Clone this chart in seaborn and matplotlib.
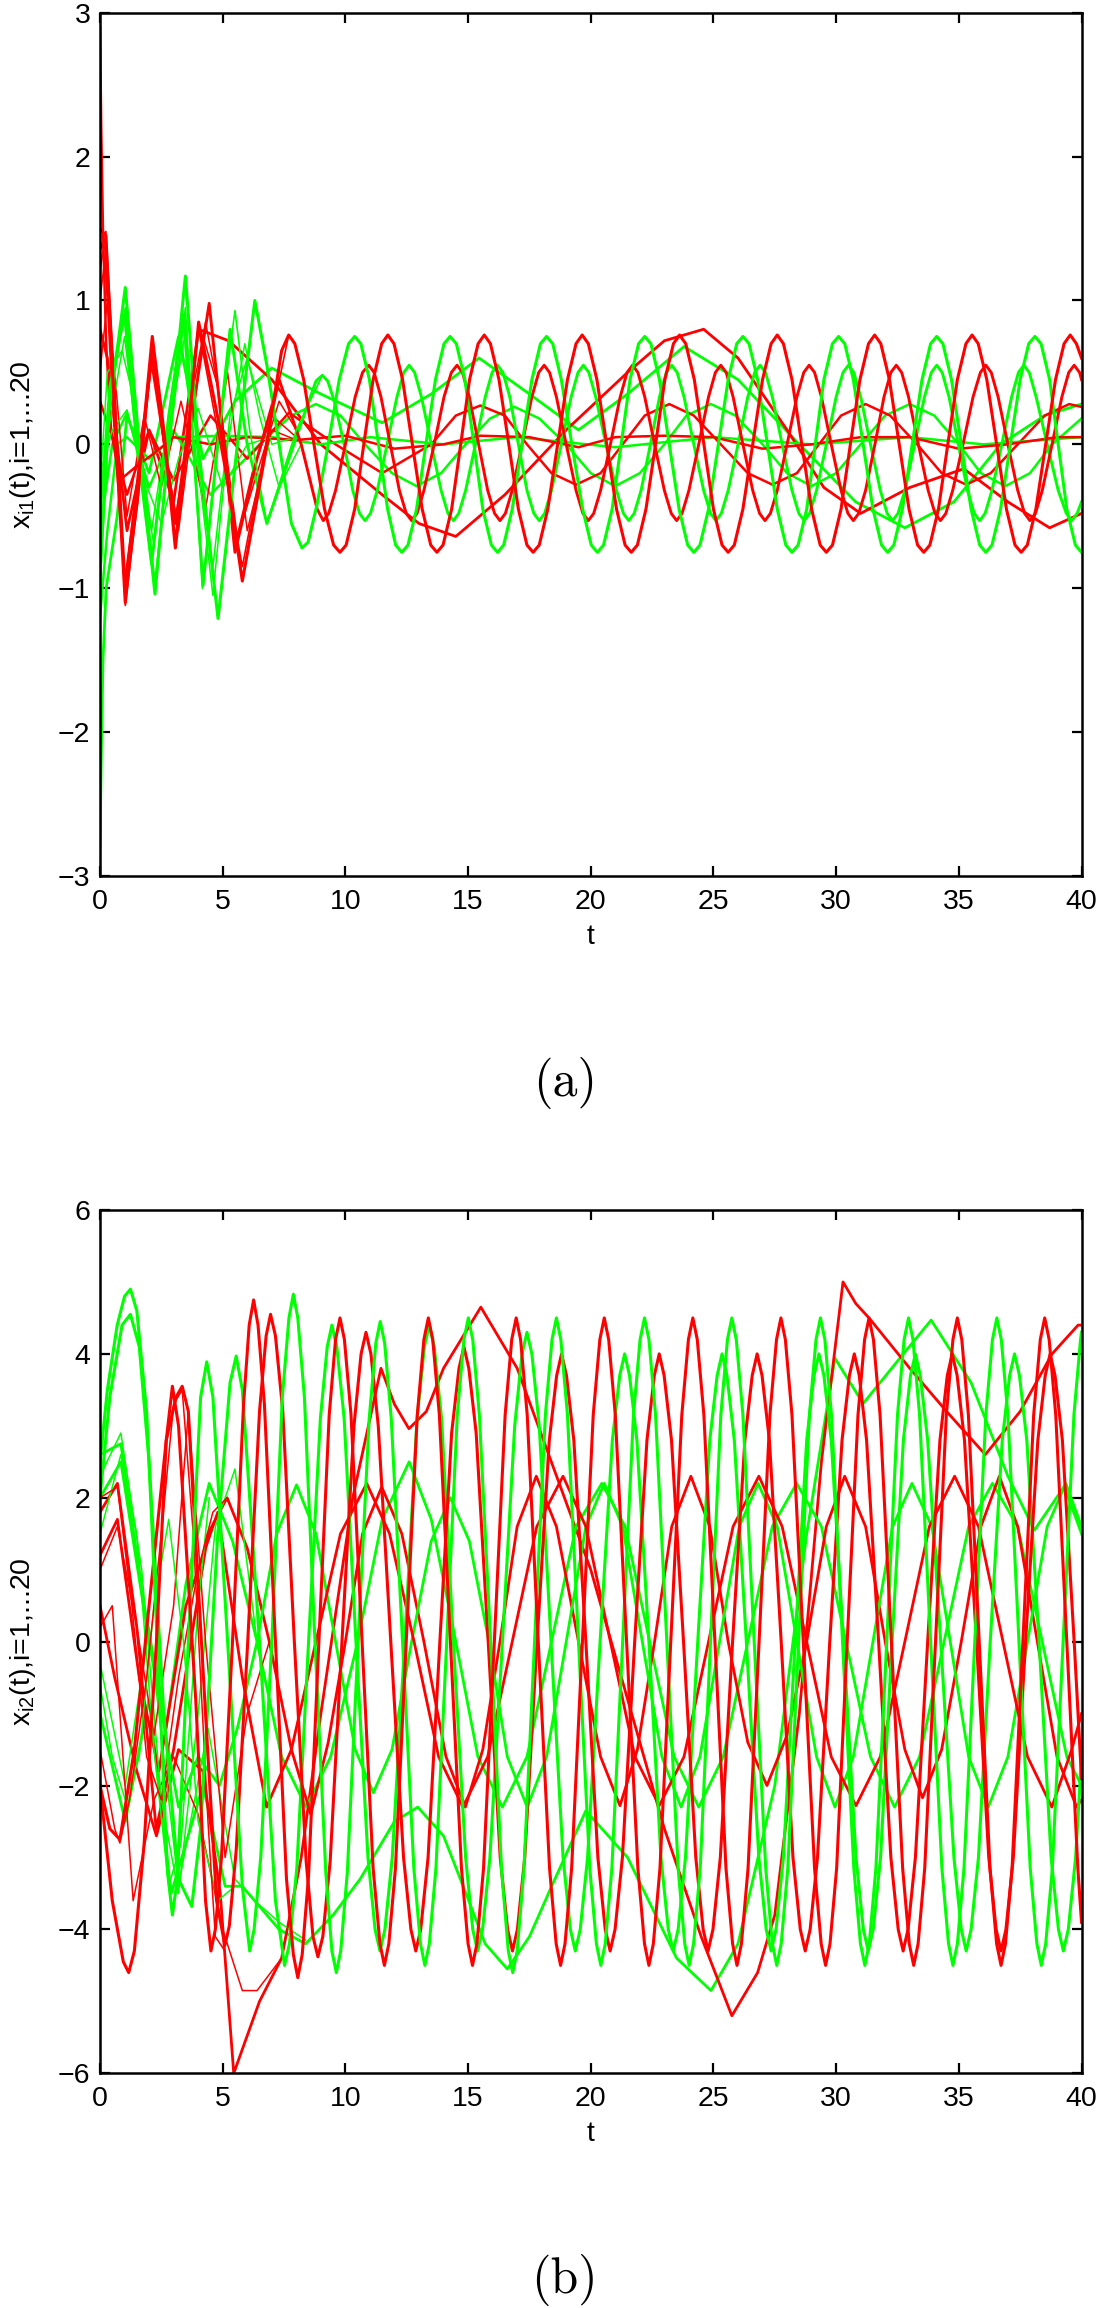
import matplotlib
matplotlib.use("Agg")
import matplotlib.pyplot as plt
import seaborn as sns
import pandas as pd

RED = "#ff0000"
GREEN = "#00ff00"

# ---------------- panel (a): x_i1(t) ----------------
a_red_big = [(0, 1.5), (0.24, 1.45), (0.6, 0.2), (1.03, -1.1), (1.6, -0.2), (2.13, 0.75), (2.6, 0.1), (3.07, -0.72),
             (3.55, 0.0), (4.02, 0.85), (4.9, 0.1), (5.8, -0.95), (6.7, -0.1), (7.4, 0.65), (7.69, 0.76),
             (7.94, 0.70), (8.3, 0.45), (8.72, 0.0), (9.15, -0.45), (9.52, -0.70), (9.78, -0.75),
             (10.03, -0.70), (10.38, -0.45), (10.75, 0.0), (11.13, 0.45), (11.48, 0.70), (11.73, 0.76),
             (11.98, 0.70), (12.33, 0.45), (12.73, 0.0), (13.13, -0.45), (13.48, -0.70), (13.73, -0.75),
             (13.98, -0.70), (14.33, -0.45), (14.7, 0.0), (15.06, 0.45), (15.41, 0.70), (15.66, 0.76),
             (15.91, 0.70), (16.26, 0.45), (16.66, 0.0), (17.05, -0.45), (17.4, -0.70), (17.65, -0.75),
             (17.9, -0.70), (18.25, -0.45), (18.65, 0.0), (19.05, 0.45), (19.4, 0.70), (19.65, 0.76),
             (19.9, 0.70), (20.25, 0.45), (20.65, 0.0), (21.05, -0.45), (21.4, -0.70), (21.65, -0.75),
             (21.9, -0.70), (22.25, -0.45), (22.64, 0.0), (23.02, 0.45), (23.37, 0.70), (23.62, 0.76),
             (23.87, 0.70), (24.22, 0.45), (24.61, 0.0), (25.0, -0.45), (25.35, -0.70), (25.6, -0.75),
             (25.85, -0.70), (26.2, -0.45), (26.6, 0.0), (27.0, 0.45), (27.35, 0.70), (27.6, 0.76),
             (27.85, 0.70), (28.2, 0.45), (28.6, 0.0), (29.0, -0.45), (29.35, -0.70), (29.6, -0.75),
             (29.85, -0.70), (30.2, -0.45), (30.58, 0.0), (30.97, 0.45), (31.32, 0.70), (31.57, 0.76),
             (31.82, 0.70), (32.17, 0.45), (32.57, 0.0), (32.97, -0.45), (33.32, -0.70), (33.57, -0.75),
             (33.82, -0.70), (34.17, -0.45), (34.55, 0.0), (34.94, 0.45), (35.29, 0.70), (35.54, 0.76),
             (35.79, 0.70), (36.14, 0.45), (36.54, 0.0), (36.94, -0.45), (37.29, -0.70), (37.54, -0.75),
             (37.79, -0.70), (38.14, -0.45), (38.54, 0.0), (38.94, 0.45), (39.29, 0.70), (39.54, 0.76),
             (39.79, 0.70), (40.0, 0.6)]
a_red_big_thin = [(0, 1.2), (0.24, 1.48), (0.6, 0.4), (1.03, -1.12), (1.6, -0.3), (2.13, 0.72), (2.6, 0.0), (3.07, -0.65),
                  (3.55, 0.1), (4.02, 0.8), (4.9, 0.0), (5.8, -0.85), (6.7, -0.05), (7.69, 0.76), (7.94, 0.70)]
a_red_mid = [(0, 1.4), (0.24, 1.35), (1.03, -1.0), (2.13, 0.65), (3.07, -0.55), (4.45, 0.98), (5.5, -0.75), (6.4, -0.1),
             (7.3, 0.45), (8.2, 0.0), (8.85, -0.45), (9.1, -0.53),
             (9.32, -0.48), (9.6, -0.32), (10.0, 0.0), (10.4, 0.33), (10.7, 0.5), (10.95, 0.55),
             (11.17, 0.5), (11.45, 0.33), (11.83, 0.0), (12.2, -0.32), (12.48, -0.48), (12.7, -0.53),
             (12.92, -0.48), (13.2, -0.32), (13.62, 0.0), (14.02, 0.33), (14.32, 0.5), (14.55, 0.55),
             (14.77, 0.5), (15.05, 0.33), (15.43, 0.0), (15.8, -0.32), (16.08, -0.48), (16.3, -0.53),
             (16.52, -0.48), (16.8, -0.32), (17.2, 0.0), (17.6, 0.33), (17.88, 0.5), (18.1, 0.55),
             (18.32, 0.5), (18.6, 0.33), (19.0, 0.0), (19.4, -0.32), (19.68, -0.48), (19.9, -0.53),
             (20.12, -0.48), (20.4, -0.32), (20.8, 0.0), (21.2, 0.33), (21.48, 0.5), (21.7, 0.55),
             (21.92, 0.5), (22.2, 0.33), (22.6, 0.0), (23.0, -0.32), (23.28, -0.48), (23.5, -0.53),
             (23.72, -0.48), (24.0, -0.32), (24.4, 0.0), (24.8, 0.33), (25.08, 0.5), (25.3, 0.55),
             (25.52, 0.5), (25.8, 0.33), (26.2, 0.0), (26.6, -0.32), (26.88, -0.48), (27.1, -0.53),
             (27.32, -0.48), (27.6, -0.32), (28.0, 0.0), (28.4, 0.33), (28.68, 0.5), (28.9, 0.55),
             (29.12, 0.5), (29.4, 0.33), (29.8, 0.0), (30.2, -0.32), (30.48, -0.48), (30.7, -0.53),
             (30.92, -0.48), (31.2, -0.32), (31.58, 0.0), (31.95, 0.33), (32.23, 0.5), (32.45, 0.55),
             (32.67, 0.5), (32.95, 0.33), (33.35, 0.0), (33.75, -0.32), (34.03, -0.48), (34.25, -0.53),
             (34.47, -0.48), (34.75, -0.32), (35.17, 0.0), (35.58, 0.33), (35.88, 0.5), (36.1, 0.55),
             (36.32, 0.5), (36.6, 0.33), (37.0, 0.0), (37.4, -0.32), (37.68, -0.48), (37.9, -0.53),
             (38.12, -0.48), (38.4, -0.32), (38.8, 0.0), (39.2, 0.33), (39.48, 0.5), (39.7, 0.55),
             (39.92, 0.5), (40.0, 0.45)]
a_red_slow = [(0, 0.8), (0.3, 0.6), (1.1, -0.6), (2.0, 0.1), (3.0, -0.4), (4.02, 0.8), (5.24, 0.72), (7.0, 0.45),
              (9.0, 0.0), (11.5, -0.35), (13.0, -0.55), (14.5, -0.64), (16.5, -0.35), (19.0, 0.1), (21.5, 0.5),
              (23.0, 0.72), (24.6, 0.8), (26.0, 0.6), (28.0, 0.1), (29.5, -0.3), (31.0, -0.48), (33.0, -0.3),
              (35.2, -0.17), (37.0, -0.4), (38.7, -0.58), (40.0, -0.48)]
a_red_small = [(0, 0.3), (0.5, 0.05), (1.1, -0.35), (2.0, 0.1), (3.0, -0.25), (4.5, 0.2), (6.0, -0.1), (7.7, 0.22),
               (9.6, 0.0), (11.5, -0.2), (13.5, 0.0), (14.5, 0.2), (15.5, 0.27), (16.5, 0.2), (17.4, 0.0), (18.4, -0.2),
               (19.4, -0.28), (20.4, -0.2), (21.3, 0.0), (22.2, 0.2), (23.2, 0.28), (24.2, 0.2), (25.3, 0.0), (26.4, -0.2),
               (27.4, -0.28), (28.4, -0.2), (29.3, 0.0), (30.2, 0.2), (31.2, 0.28), (32.2, 0.2), (33.3, 0.0), (34.3, -0.2),
               (35.3, -0.28), (36.3, -0.2), (37.4, 0.0), (38.5, 0.2), (39.5, 0.28), (40.0, 0.26)]
a_red_flat = [(0, 2.9), (0.05, 2.2), (0.12, 1.5), (0.25, 0.7), (0.45, 0.1), (0.8, -0.25), (1.5, -0.15), (2.3, -0.05),
              (3.0, 0.05), (4.5, 0.0), (6.0, 0.05), (8.0, 0.03), (10.0, 0.06), (12.0, -0.03), (14.0, 0.0), (15.5, 0.06),
              (17.5, 0.05), (19.5, -0.02), (21.0, 0.05), (23.0, 0.06), (25.0, 0.05), (27.0, -0.03), (29.0, 0.0),
              (31.0, 0.05), (33.0, 0.05), (35.0, -0.03), (37.0, 0.0), (39.0, 0.05), (40.0, 0.05)]
a_red_thin = [(0, 0.5), (0.3, 1.0), (0.7, 0.3), (1.1, -0.5), (1.8, 0.2), (2.5, -0.3), (3.3, 0.3), (4.3, -0.45),
              (5.2, 0.5), (6.0, -0.6), (7.0, 0.1), (8.0, 0.03)]
a_red_thin2 = [(0, 1.0), (0.2, 1.3), (0.6, 0.0), (1.0, -0.95), (1.5, -0.3), (2.1, 0.55), (2.6, 0.0), (3.1, -0.5),
               (3.7, 0.3), (4.3, 0.85), (4.9, 0.3), (5.5, -0.7), (6.2, -0.2), (7.0, 0.2), (8.0, 0.05)]
a_red_thin3 = [(0, 1.35), (0.22, 1.42), (0.65, 0.1), (1.03, -1.05), (1.55, -0.4), (2.1, 0.6), (2.7, -0.1), (3.2, -0.6),
               (3.8, 0.2), (4.2, 0.75), (4.8, 0.4), (5.6, -0.65), (6.4, -0.2), (7.3, 0.3), (8.0, 0.1)]

a_grn_big = [(0, -0.9), (0.35, 0.2), (1.03, 1.09), (1.6, 0.0), (2.24, -1.04), (2.8, 0.0), (3.48, 1.17), (4.0, 0.0),
             (4.81, -1.21), (5.6, 0.0), (6.31, 1.0), (6.8, 0.55), (7.3, 0.0), (7.8, -0.55), (8.23, -0.72),
             (8.48, -0.68), (8.83, -0.43), (9.3, 0.0), (9.75, 0.45), (10.13, 0.70), (10.38, 0.75),
             (10.63, 0.70), (10.98, 0.45), (11.35, 0.0), (11.72, -0.45), (12.05, -0.70), (12.3, -0.75),
             (12.55, -0.70), (12.9, -0.45), (13.28, 0.0), (13.67, 0.45), (14.02, 0.70), (14.27, 0.75),
             (14.52, 0.70), (14.87, 0.45), (15.24, 0.0), (15.6, -0.45), (15.95, -0.70), (16.2, -0.75),
             (16.45, -0.70), (16.8, -0.45), (17.2, 0.0), (17.6, 0.45), (17.95, 0.70), (18.2, 0.75),
             (18.45, 0.70), (18.8, 0.45), (19.23, 0.0), (19.67, -0.45), (20.02, -0.70), (20.27, -0.75),
             (20.52, -0.70), (20.87, -0.45), (21.24, 0.0), (21.6, 0.45), (21.95, 0.70), (22.2, 0.75),
             (22.45, 0.70), (22.8, 0.45), (23.2, 0.0), (23.6, -0.45), (23.95, -0.70), (24.2, -0.75),
             (24.45, -0.70), (24.8, -0.45), (25.2, 0.0), (25.6, 0.45), (25.95, 0.70), (26.2, 0.75),
             (26.45, 0.70), (26.8, 0.45), (27.2, 0.0), (27.6, -0.45), (27.95, -0.70), (28.2, -0.75),
             (28.45, -0.70), (28.8, -0.45), (29.15, 0.0), (29.5, 0.45), (29.85, 0.70), (30.1, 0.75),
             (30.35, 0.70), (30.7, 0.45), (31.1, 0.0), (31.5, -0.45), (31.85, -0.70), (32.1, -0.75),
             (32.35, -0.70), (32.7, -0.45), (33.1, 0.0), (33.5, 0.45), (33.85, 0.70), (34.1, 0.75),
             (34.35, 0.70), (34.7, 0.45), (35.1, 0.0), (35.5, -0.45), (35.85, -0.70), (36.1, -0.75),
             (36.35, -0.70), (36.7, -0.45), (37.1, 0.0), (37.5, 0.45), (37.85, 0.70), (38.1, 0.75),
             (38.35, 0.70), (38.7, 0.45), (39.05, 0.0), (39.4, -0.45), (39.75, -0.70), (40.0, -0.75)]
a_grn_big_thin = [(0, -1.0), (0.4, 0.3), (1.03, 0.95), (1.6, 0.0), (2.24, -0.95), (2.9, 0.1), (3.48, 0.95), (3.8, 0.0),
                  (4.17, -1.0), (4.8, 0.0), (5.5, 0.93), (6.1, 0.1), (6.8, -0.55), (8.0, 0.1), (9.06, 0.48)]
a_grn_mid = [(0, -0.5), (0.4, 0.4), (1.0, 0.9), (1.5, 0.0), (2.1, -0.83), (2.8, 0.2), (3.4, 0.9), (3.8, 0.0),
             (4.2, -0.98), (4.8, 0.0), (5.3, 0.8), (6.0, 0.0), (6.8, -0.55), (7.9, 0.0), (8.8, 0.44), (9.06, 0.48),
             (9.28, 0.44), (9.55, 0.3), (9.95, 0.0), (10.3, -0.32), (10.58, -0.48), (10.8, -0.53),
             (11.02, -0.48), (11.3, -0.32), (11.7, 0.0), (12.1, 0.33), (12.38, 0.5), (12.6, 0.55),
             (12.82, 0.5), (13.1, 0.33), (13.5, 0.0), (13.9, -0.32), (14.18, -0.48), (14.4, -0.53),
             (14.62, -0.48), (14.9, -0.32), (15.3, 0.0), (15.7, 0.33), (15.98, 0.5), (16.2, 0.55),
             (16.42, 0.5), (16.7, 0.33), (17.05, 0.0), (17.4, -0.32), (17.68, -0.48), (17.9, -0.53),
             (18.12, -0.48), (18.4, -0.32), (18.8, 0.0), (19.2, 0.33), (19.48, 0.5), (19.7, 0.55),
             (19.92, 0.5), (20.2, 0.33), (20.62, 0.0), (21.05, -0.32), (21.33, -0.48), (21.55, -0.53),
             (21.77, -0.48), (22.05, -0.32), (22.43, 0.0), (22.8, 0.33), (23.08, 0.5), (23.3, 0.55),
             (23.52, 0.5), (23.8, 0.33), (24.2, 0.0), (24.6, -0.32), (24.88, -0.48), (25.1, -0.53),
             (25.32, -0.48), (25.6, -0.32), (26.0, 0.0), (26.4, 0.33), (26.68, 0.5), (26.9, 0.55),
             (27.12, 0.5), (27.4, 0.33), (27.8, 0.0), (28.2, -0.32), (28.48, -0.48), (28.7, -0.53),
             (28.92, -0.48), (29.2, -0.32), (29.6, 0.0), (30.0, 0.33), (30.28, 0.5), (30.5, 0.55),
             (30.72, 0.5), (31.0, 0.33), (31.4, 0.0), (31.8, -0.32), (32.08, -0.48), (32.3, -0.53),
             (32.52, -0.48), (32.8, -0.32), (33.2, 0.0), (33.6, 0.33), (33.88, 0.5), (34.1, 0.55),
             (34.32, 0.5), (34.6, 0.33), (34.98, 0.0), (35.35, -0.32), (35.63, -0.48), (35.85, -0.53),
             (36.07, -0.48), (36.35, -0.32), (36.75, 0.0), (37.15, 0.33), (37.43, 0.5), (37.65, 0.55),
             (37.87, 0.5), (38.15, 0.33), (38.6, 0.0), (39.05, -0.32), (39.38, -0.48), (39.6, -0.53),
             (39.82, -0.48), (40.0, -0.4)]
a_grn_small = [(0, -0.6), (0.5, 0.0), (1.1, 0.22), (2.0, -0.3), (3.0, 0.1), (4.5, -0.35), (6.5, 0.0), (7.8, 0.2),
               (8.8, 0.28), (9.8, 0.2), (10.8, 0.0), (11.9, -0.2), (12.9, -0.29), (13.9, -0.2), (14.9, 0.0), (15.9, 0.18),
               (16.9, 0.26), (17.9, 0.18), (19.0, 0.0), (20.0, -0.2), (21.0, -0.29), (22.0, -0.2), (23.0, 0.0), (23.9, 0.2),
               (24.9, 0.28), (25.9, 0.2), (27.0, 0.0), (28.0, -0.2), (29.0, -0.29), (30.0, -0.2), (31.0, 0.0), (32.0, 0.2),
               (33.0, 0.28), (34.0, 0.2), (35.0, 0.0), (35.9, -0.2), (36.9, -0.29), (37.9, -0.2), (38.8, 0.0), (40.0, 0.18)]
a_grn_slow = [(0, -2.8), (0.05, -2.2), (0.12, -1.5), (0.25, -1.0), (0.7, -0.5), (1.1, 0.2), (2.0, -0.2), (3.2, 0.75),
              (4.2, -0.1), (5.5, 0.3), (7.0, 0.53), (9.0, 0.35), (11.5, 0.15), (13.5, 0.35), (15.45, 0.6), (17.5, 0.35),
              (19.5, 0.1), (21.5, 0.35), (23.8, 0.68), (26.0, 0.45), (28.5, 0.0), (30.8, -0.4), (32.8, -0.58),
              (34.8, -0.4), (36.7, 0.0), (38.5, 0.2), (40.0, 0.28)]
a_grn_flat = [(0, -1.2), (0.3, -0.6), (0.7, 0.0), (1.1, 0.05), (2.0, -0.1), (3.0, 0.05), (5.0, 0.06), (7.0, 0.05),
              (9.0, 0.0), (11.0, 0.05), (14.0, 0.0), (17.0, 0.05), (21.0, -0.02), (25.0, 0.05), (29.0, 0.0),
              (33.0, 0.05), (36.0, 0.0), (40.0, 0.05)]
a_grn_thin = [(0, -0.3), (0.3, 0.5), (0.9, 0.65), (1.4, 0.3), (2.1, -0.6), (2.9, 0.3), (3.3, 0.75), (4.0, -0.2),
              (4.6, -0.85), (5.3, 0.2), (6.0, 0.6), (7.0, 0.0), (8.0, 0.05)]
a_grn_thin2 = [(0, -0.8), (0.35, 0.1), (1.0, 0.75), (1.6, -0.1), (2.2, -0.7), (2.8, 0.1), (3.5, 0.8), (4.1, -0.3),
               (4.6, -1.05), (5.2, 0.0), (5.9, 0.7), (6.5, 0.2), (7.3, -0.3), (8.2, 0.0)]
a_grn_thin3 = [(0, -0.2), (0.5, 0.1), (1.1, 0.24), (1.7, -0.2), (2.5, -0.55), (3.2, -0.1), (4.0, 0.25), (5.0, -0.3),
               (6.0, 0.0), (7.0, 0.05)]

# ---------------- panel (b): x_i2(t) ----------------
b_red_a = [(0, -2.0), (0.5, -3.6), (0.95, -4.45), (1.17, -4.6), (1.4, -4.3), (1.8, -2.8), (2.3, 0.0), (2.7, 2.8),
           (2.95, 3.55), (3.2, 3.0), (3.9, -0.8), (4.3, -3.6), (4.52, -4.3),
           (4.7, -4.0), (4.95, -3.0), (5.4, 0.0), (5.85, 3.3), (6.08, 4.4), (6.26, 4.75),
           (6.44, 4.4), (6.7, 3.3), (7.15, 0.0), (7.6, -3.3), (7.88, -4.35), (8.06, -4.67),
           (8.24, -4.35), (8.5, -3.25), (8.92, 0.0), (9.34, 3.15), (9.6, 4.2), (9.78, 4.5),
           (9.96, 4.2), (10.23, 3.15), (10.68, 0.0), (11.13, -3.15), (11.41, -4.2), (11.59, -4.5),
           (11.77, -4.2), (12.04, -3.15), (12.48, 0.0), (12.93, 3.15), (13.2, 4.2), (13.38, 4.5),
           (13.56, 4.2), (13.83, 3.15), (14.28, 0.0), (14.73, -3.15), (15.0, -4.2), (15.18, -4.5),
           (15.36, -4.2), (15.63, -3.15), (16.07, 0.0), (16.51, 3.15), (16.78, 4.2), (16.96, 4.5),
           (17.14, 4.2), (17.41, 3.15), (17.86, 0.0), (18.32, -3.15), (18.59, -4.2), (18.77, -4.5),
           (18.95, -4.2), (19.22, -3.15), (19.66, 0.0), (20.1, 3.15), (20.37, 4.2), (20.55, 4.5),
           (20.73, 4.2), (21.0, 3.15), (21.46, 0.0), (21.92, -3.15), (22.19, -4.2), (22.37, -4.5),
           (22.55, -4.2), (22.82, -3.15), (23.26, 0.0), (23.71, 3.15), (23.98, 4.2), (24.16, 4.5),
           (24.34, 4.2), (24.61, 3.15), (25.06, 0.0), (25.51, -3.15), (25.78, -4.2), (25.96, -4.5),
           (26.14, -4.2), (26.41, -3.15), (26.86, 0.0), (27.3, 3.15), (27.57, 4.2), (27.75, 4.5),
           (27.93, 4.2), (28.2, 3.15), (28.66, 0.0), (29.12, -3.15), (29.39, -4.2), (29.57, -4.5),
           (29.75, -4.2), (30.02, -3.15), (30.45, 0.0), (30.89, 3.15), (31.16, 4.2), (31.34, 4.5),
           (31.52, 4.2), (31.79, 3.15), (32.25, 0.0), (32.71, -3.15), (32.98, -4.2), (33.16, -4.5),
           (33.34, -4.2), (33.61, -3.15), (34.05, 0.0), (34.49, 3.15), (34.76, 4.2), (34.94, 4.5),
           (35.12, 4.2), (35.39, 3.15), (35.83, 0.0), (36.27, -3.15), (36.54, -4.2), (36.72, -4.5),
           (36.9, -4.2), (37.17, -3.15), (37.61, 0.0), (38.05, 3.15), (38.32, 4.2), (38.5, 4.5),
           (38.68, 4.2), (38.95, 3.15), (39.4, 0.0), (39.85, -3.15), (40.0, -3.9)]
b_red_b = [(0, -2.0), (0.4, -2.6), (0.81, -2.75), (1.4, -1.5), (2.0, 0.5), (2.7, 2.8), (3.1, 3.4), (3.35, 3.55),
           (3.6, 3.2), (4.3, -1.0), (4.75, -3.6), (5.09, -4.22),
           (5.27, -3.95), (5.55, -2.9), (6.02, 0.0), (6.5, 3.2), (6.77, 4.25), (6.95, 4.55),
           (7.15, 4.25), (7.45, 3.2), (7.92, 0.0), (8.4, -3.05), (8.68, -4.1), (8.88, -4.38),
           (9.08, -4.1), (9.38, -3.05), (9.86, 0.0), (10.35, 3.0), (10.64, 4.0), (10.84, 4.3),
           (11.04, 4.0), (11.34, 3.0), (11.85, 0.0), (12.37, -3.0), (12.67, -4.0), (12.87, -4.3),
           (13.07, -4.0), (13.37, -3.0), (13.85, 0.0), (14.33, 2.9), (14.63, 3.8), (14.83, 4.1),
           (15.03, 3.8), (15.33, 2.9), (15.82, 0.0), (16.31, -3.0), (16.61, -4.0), (16.81, -4.3),
           (17.01, -4.0), (17.31, -3.0), (17.81, 0.0), (18.31, 2.8), (18.61, 3.7), (18.81, 4.0),
           (19.01, 3.7), (19.31, 2.8), (19.8, 0.0), (20.29, -3.0), (20.59, -4.0), (20.79, -4.3),
           (20.99, -4.0), (21.29, -3.0), (21.79, 0.0), (22.29, 2.8), (22.59, 3.7), (22.79, 4.0),
           (22.99, 3.7), (23.29, 2.8), (23.78, 0.0), (24.28, -3.0), (24.58, -4.0), (24.78, -4.3),
           (24.98, -4.0), (25.28, -3.0), (25.78, 0.0), (26.28, 2.8), (26.58, 3.7), (26.78, 4.0),
           (26.98, 3.7), (27.28, 2.8), (27.76, 0.0), (28.24, -3.0), (28.54, -4.0), (28.74, -4.3),
           (28.94, -4.0), (29.24, -3.0), (29.74, 0.0), (30.24, 2.8), (30.54, 3.7), (30.74, 4.0),
           (30.94, 3.7), (31.24, 2.8), (31.73, 0.0), (32.23, -3.0), (32.53, -4.0), (32.73, -4.3),
           (32.93, -4.0), (33.23, -3.0), (33.73, 0.0), (34.23, 2.8), (34.53, 3.7), (34.73, 4.0),
           (34.93, 3.7), (35.23, 2.8), (35.72, 0.0), (36.22, -3.0), (36.52, -4.0), (36.72, -4.3),
           (36.92, -4.0), (37.22, -3.0), (37.72, 0.0), (38.22, 2.8), (38.52, 3.7), (38.72, 4.0),
           (38.92, 3.7), (39.22, 2.8), (39.7, 0.0), (40.0, -1.9)]
b_red_m1 = [(0, 1.8), (0.71, 2.2), (1.5, 0.2), (2.29, -2.6), (3.0, -1.5), (3.7, 0.0), (4.4, 1.5), (5.18, 2.0), (6.0, 1.3),
            (6.9, 0.0), (7.8, -1.5), (8.59, -2.4), (9.3, -1.4), (10.0, 0.0), (10.7, 1.5), (11.48, 2.15), (12.3, 1.5),
            (13.2, 0.0), (14.1, -1.6), (14.89, -2.3), (15.6, -1.5), (16.3, 0.0), (17.0, 1.6), (17.78, 2.3), (18.6, 1.6),
            (19.5, 0.0), (20.4, -1.6), (21.19, -2.28), (21.9, -1.5), (22.6, 0.0), (23.3, 1.6), (24.08, 2.3), (24.85, 1.6),
            (25.6, 0.0), (26.4, -1.4), (27.18, -2.0), (28.0, -1.3), (28.8, 0.0), (29.6, 1.6), (30.35, 2.3), (31.2, 1.6),
            (32.0, 0.0), (32.8, -1.5), (33.52, -2.17), (34.3, -1.5), (35.1, 0.0), (35.9, 1.6), (36.65, 2.3), (37.4, 1.6),
            (38.2, 0.0), (39.0, -1.6), (39.8, -2.3), (40.0, -2.2)]
b_red_m2 = [(0, 1.2), (0.71, 1.7), (1.6, -0.5), (2.4, -1.8), (3.5, 0.5), (4.8, 1.8), (5.8, -0.5), (6.79, -2.3),
            (7.8, -1.5), (8.8, 0.0), (9.8, 1.5), (10.87, 2.2), (11.8, 1.5), (12.8, 0.0), (13.8, -1.6), (14.79, -2.3),
            (15.8, -1.6), (16.8, 0.0), (17.8, 1.6), (18.87, 2.3), (19.8, 1.6), (20.8, 0.0), (21.8, -1.6), (22.79, -2.28),
            (23.8, -1.6), (24.8, 0.0), (25.8, 1.6), (26.85, 2.3), (27.8, 1.6), (28.8, 0.0), (29.8, -1.6), (30.81, -2.28),
            (31.8, -1.6), (32.8, 0.0), (33.8, 1.6), (34.83, 2.3), (35.8, 1.6), (36.8, 0.0), (37.8, -1.6), (38.79, -2.3),
            (39.6, -1.5), (40.0, -1.0)]
b_red_slow = [(0, 0.5), (0.6, -0.5), (1.5, -1.8), (2.3, -2.7), (3.2, -1.5), (4.2, -1.8), (4.9, -3.5), (5.45, -6.0),
              (6.5, -5.0), (7.4, -4.4), (8.2, -3.0), (9.0, -1.0), (10.3, 2.0), (11.45, 3.8), (12.0, 3.3), (12.59, 2.96),
              (13.3, 3.2), (14.0, 3.8), (15.52, 4.65), (17.0, 3.8), (18.5, 2.4), (20.0, 1.0), (21.5, -0.8), (23.0, -2.6),
              (24.5, -4.1), (25.75, -5.2), (26.8, -4.6), (27.5, -3.8), (28.5, -1.0), (29.4, 2.5), (30.28, 5.0),
              (30.8, 4.7), (31.34, 4.5), (33.0, 3.8), (34.5, 3.2), (36.08, 2.6), (37.5, 3.2), (38.8, 4.0), (39.86, 4.4),
              (40.0, 4.4)]
b_red_slow_thin = [(0, 0.2), (0.5, 0.5), (1.35, -3.6), (2.2, -2.2), (3.0, -1.6), (4.0, -2.4), (5.0, -4.0), (5.8, -4.85),
                   (6.4, -4.85), (7.4, -4.4), (8.2, -3.0)]
b_red_thin = [(0, 1.0), (0.71, 1.6), (1.5, 0.2), (2.2, -1.3), (3.0, 0.5), (3.6, 3.2), (4.3, 0.0), (5.1, -3.0),
              (6.0, -1.0), (6.9, 0.0)]
b_red_thin2 = [(0, 2.0), (0.71, 2.15), (1.3, 0.5), (1.9, -1.6), (2.5, -2.2), (3.2, -0.5), (4.0, 1.0), (4.6, 1.8),
               (5.18, 2.0)]
b_red_thin3 = [(0, -1.5), (0.6, -2.6), (0.81, -2.8), (1.2, -2.2), (1.9, -0.5), (2.5, 1.5), (3.0, 3.3), (3.35, 3.5),
               (3.8, 1.5), (4.4, -2.5), (4.7, -4.1), (5.09, -4.3)]

b_grn_a = [(0, 2.5), (0.3, 3.5), (0.7, 4.4), (1.0, 4.8), (1.24, 4.9), (1.5, 4.6), (1.9, 3.2), (2.4, -0.5), (2.75, -3.2),
           (2.95, -3.8), (3.15, -3.3), (3.6, 0.0), (4.1, 3.4), (4.35, 3.89), (4.6, 3.4), (5.2, 0.0), (5.8, -3.4),
           (6.1, -4.3),
           (6.28, -4.0), (6.55, -3.0), (7.0, 0.0), (7.43, 3.4), (7.7, 4.5), (7.88, 4.83),
           (8.06, 4.5), (8.33, 3.4), (8.76, 0.0), (9.2, -3.2), (9.45, -4.3), (9.63, -4.6),
           (9.81, -4.3), (10.08, -3.2), (10.52, 0.0), (10.97, 3.1), (11.24, 4.15), (11.42, 4.45),
           (11.6, 4.15), (11.87, 3.1), (12.33, 0.0), (12.79, -3.15), (13.06, -4.2), (13.24, -4.5),
           (13.42, -4.2), (13.69, -3.15), (14.13, 0.0), (14.56, 3.15), (14.83, 4.2), (15.01, 4.5),
           (15.19, 4.2), (15.46, 3.15), (15.92, 0.0), (16.37, -3.2), (16.64, -4.3), (16.82, -4.6),
           (17.0, -4.3), (17.27, -3.2), (17.71, 0.0), (18.15, 3.15), (18.42, 4.2), (18.6, 4.5),
           (18.78, 4.2), (19.05, 3.15), (19.5, 0.0), (19.96, -3.15), (20.23, -4.2), (20.41, -4.5),
           (20.59, -4.2), (20.86, -3.15), (21.3, 0.0), (21.74, 3.15), (22.01, 4.2), (22.19, 4.5),
           (22.37, 4.2), (22.64, 3.15), (23.1, 0.0), (23.56, -3.15), (23.83, -4.2), (24.01, -4.5),
           (24.19, -4.2), (24.46, -3.15), (24.88, 0.0), (25.3, 3.15), (25.57, 4.2), (25.75, 4.5),
           (25.93, 4.2), (26.2, 3.15), (26.66, 0.0), (27.13, -3.15), (27.4, -4.2), (27.58, -4.5),
           (27.76, -4.2), (28.03, -3.15), (28.47, 0.0), (28.91, 3.15), (29.18, 4.2), (29.36, 4.5),
           (29.54, 4.2), (29.81, 3.15), (30.26, 0.0), (30.72, -3.15), (30.99, -4.2), (31.17, -4.5),
           (31.35, -4.2), (31.62, -3.15), (32.06, 0.0), (32.5, 3.15), (32.77, 4.2), (32.95, 4.5),
           (33.13, 4.2), (33.4, 3.15), (33.85, 0.0), (34.31, -3.15), (34.58, -4.2), (34.76, -4.5),
           (34.94, -4.2), (35.21, -3.15), (35.65, 0.0), (36.1, 3.15), (36.37, 4.2), (36.55, 4.5),
           (36.73, 4.2), (37.0, 3.15), (37.45, 0.0), (37.91, -3.15), (38.18, -4.2), (38.36, -4.5),
           (38.54, -4.2), (38.81, -3.15), (39.25, 0.0), (39.69, 3.15), (39.96, 4.2), (40.0, 4.3)]
b_grn_b = [(0, 2.0), (0.4, 3.4), (0.9, 4.4), (1.24, 4.55), (1.6, 4.1), (2.0, 2.5), (2.6, -1.0), (3.2, -3.3),
           (3.74, -3.68), (4.1, -2.6), (4.8, 1.5), (5.3, 3.6), (5.55, 3.97), (5.8, 3.5), (6.5, 0.0), (7.15, -3.6),
           (7.52, -4.5),
           (7.72, -4.2), (8.02, -3.15), (8.5, 0.0), (8.98, 3.1), (9.26, 4.1), (9.45, 4.4),
           (9.65, 4.1), (9.95, 3.1), (10.43, 0.0), (10.92, -3.0), (11.21, -4.0), (11.41, -4.3),
           (11.61, -4.0), (11.91, -3.0), (12.42, 0.0), (12.92, 3.1), (13.22, 4.1), (13.42, 4.4),
           (13.62, 4.1), (13.92, 3.1), (14.4, 0.0), (14.9, -3.0), (15.19, -4.0), (15.39, -4.3),
           (15.59, -4.0), (15.89, -3.0), (16.4, 0.0), (16.9, 3.0), (17.2, 4.0), (17.4, 4.3),
           (17.6, 4.0), (17.9, 3.0), (18.38, 0.0), (18.87, -3.0), (19.17, -4.0), (19.37, -4.3),
           (19.57, -4.0), (19.87, -3.0), (20.38, 0.0), (20.88, 2.8), (21.18, 3.7), (21.38, 4.0),
           (21.58, 3.7), (21.88, 2.8), (22.37, 0.0), (22.86, -3.0), (23.16, -4.0), (23.36, -4.3),
           (23.56, -4.0), (23.86, -3.0), (24.36, 0.0), (24.85, 2.8), (25.15, 3.7), (25.35, 4.0),
           (25.55, 3.7), (25.85, 2.8), (26.34, 0.0), (26.85, -3.0), (27.15, -4.0), (27.35, -4.3),
           (27.55, -4.0), (27.85, -3.0), (28.33, 0.0), (28.8, 2.8), (29.1, 3.7), (29.3, 4.0),
           (29.5, 3.7), (29.8, 2.8), (30.3, 0.0), (30.81, -3.0), (31.11, -4.0), (31.31, -4.3),
           (31.51, -4.0), (31.81, -3.0), (32.28, 0.0), (32.74, 2.8), (33.03, 3.7), (33.23, 4.0),
           (33.43, 3.7), (33.73, 2.8), (34.26, 0.0), (34.8, -3.0), (35.1, -4.0), (35.3, -4.3),
           (35.5, -4.0), (35.8, -3.0), (36.28, 0.0), (36.77, 2.8), (37.07, 3.7), (37.27, 4.0),
           (37.47, 3.7), (37.77, 2.8), (38.27, 0.0), (38.76, -3.0), (39.06, -4.0), (39.26, -4.3),
           (39.46, -4.0), (39.76, -3.0), (40.0, -1.6)]
b_grn_m1 = [(0, 2.6), (0.85, 2.75), (1.8, 0.5), (2.7, -1.2), (3.5, 0.8), (4.45, 2.2), (5.4, 1.4), (6.4, 0.0), (7.4, -1.6),
            (8.4, -2.3), (9.4, -1.6), (10.5, 0.0), (11.5, 1.7), (12.6, 2.5), (13.5, 1.7), (14.5, 0.0), (15.4, -1.6),
            (16.4, -2.3), (17.4, -1.6), (18.4, 0.0), (19.4, 1.6), (20.45, 2.2), (21.4, 1.6), (22.4, 0.0), (23.4, -1.6),
            (24.4, -2.3), (25.4, -1.6), (26.4, 0.0), (27.4, 1.6), (28.39, 2.2), (29.4, 1.6), (30.4, 0.0), (31.4, -1.6),
            (32.38, -2.3), (33.4, -1.6), (34.4, 0.0), (35.4, 1.6), (36.37, 2.2), (37.4, 1.6), (38.4, 0.0), (39.4, -1.6),
            (40.0, -2.0)]
b_grn_m2 = [(0, 2.0), (0.85, 2.5), (2.0, 0.0), (3.2, -2.3), (4.0, -1.6), (4.87, -2.0), (5.6, -1.2), (6.4, 0.0), (7.2, 1.5),
            (8.01, 2.18), (8.8, 1.5), (9.6, 0.0), (10.4, -1.5), (11.14, -2.1), (11.9, -1.5), (12.7, 0.0), (13.5, 1.4),
            (14.28, 2.0), (15.05, 1.4), (15.85, 0.0), (16.6, -1.6), (17.41, -2.3), (18.2, -1.6), (19.0, 0.0), (19.8, 1.6),
            (20.55, 2.2), (21.3, 1.6), (22.1, 0.0), (22.9, -1.6), (23.68, -2.3), (24.45, -1.6), (25.25, 0.0), (26.05, 1.6),
            (26.82, 2.2), (27.6, 1.6), (28.4, 0.0), (29.2, -1.6), (29.95, -2.3), (30.7, -1.6), (31.5, 0.0), (32.3, 1.6),
            (33.09, 2.2), (33.9, 1.6), (34.65, 0.0), (35.4, -1.6), (36.2, -2.3), (37.0, -1.6), (37.8, 0.0), (38.6, 1.6),
            (39.36, 2.2), (40.0, 1.6)]
b_grn_slow = [(0, -1.0), (1.03, -2.5), (2.0, -0.8), (2.9, -3.5), (4.2, -2.0), (5.1, -3.4), (5.8, -3.4), (6.3, -3.6),
              (7.3, -4.0), (8.38, -4.2), (9.5, -3.8), (10.6, -3.3), (12.0, -2.5), (12.95, -2.3), (14.0, -2.7),
              (14.8, -3.4), (15.7, -4.2), (16.6, -4.55), (17.5, -4.1), (18.34, -3.45), (19.8, -2.35), (21.5, -3.0),
              (23.5, -4.4), (24.9, -4.85), (26.0, -4.2), (27.5, -2.0), (28.8, 1.5), (29.95, 3.94), (31.1, 3.31),
              (32.5, 3.9), (33.87, 4.47), (35.5, 3.6), (37.0, 2.3), (38.08, 1.55), (39.3, 2.16), (40.0, 1.5)]
b_grn_slow_thin = [(0, -0.3), (1.03, -2.0), (2.0, 0.2), (3.2, -3.4), (4.4, -1.2), (5.5, -3.3), (6.3, -3.6), (7.3, -3.9),
                   (8.38, -4.15)]
b_grn_thin = [(0, 2.3), (0.85, 2.9), (1.7, 1.0), (2.5, -2.2), (3.2, -3.5), (4.0, -1.0), (4.7, 1.6), (5.5, 2.4), (6.4, 0.0)]
b_grn_thin2 = [(0, 1.5), (0.85, 2.6), (1.5, 1.5), (2.2, -1.5), (2.8, -3.4), (3.3, -2.8), (4.0, 0.5), (4.45, 2.0)]
b_grn_thin3 = [(0, -0.6), (0.5, -1.6), (1.03, -2.2), (1.6, -1.6), (2.2, 0.5), (2.8, 1.7), (3.4, 0.0), (4.0, -2.5),
               (4.8, -3.6), (5.5, -3.4)]

# drawing order, colour and width for each trajectory
curves_a = [
    (a_grn_slow, GREEN, 2.0), (a_red_slow, RED, 2.0), (a_grn_small, GREEN, 1.8), (a_red_small, RED, 1.8),
    (a_grn_flat, GREEN, 1.8), (a_red_flat, RED, 1.8), (a_grn_thin, GREEN, 1.1), (a_red_thin, RED, 1.1),
    (a_grn_thin2, GREEN, 1.1), (a_red_thin2, RED, 1.1), (a_grn_thin3, GREEN, 1.1), (a_red_thin3, RED, 1.1),
    (a_grn_mid, GREEN, 2.1), (a_red_mid, RED, 2.1), (a_grn_big_thin, GREEN, 1.2), (a_red_big_thin, RED, 1.2),
    (a_grn_big, GREEN, 2.2), (a_red_big, RED, 2.2),
]
curves_b = [
    (b_grn_slow, GREEN, 2.0), (b_red_slow, RED, 2.0), (b_grn_slow_thin, GREEN, 1.1), (b_red_slow_thin, RED, 1.1),
    (b_grn_m1, GREEN, 2.0), (b_red_m1, RED, 2.0), (b_grn_m2, GREEN, 2.0), (b_red_m2, RED, 2.0),
    (b_grn_thin, GREEN, 1.1), (b_red_thin, RED, 1.1), (b_grn_thin2, GREEN, 1.1), (b_red_thin2, RED, 1.1),
    (b_grn_thin3, GREEN, 1.1), (b_red_thin3, RED, 1.1),
    (b_grn_b, GREEN, 2.2), (b_red_b, RED, 2.2), (b_grn_a, GREEN, 2.2), (b_red_a, RED, 2.2),
]

plt.rcParams.update({
    "font.family": ["Liberation Sans", "DejaVu Sans"],
    "mathtext.fontset": "custom",
    "mathtext.rm": "Liberation Sans",
    "mathtext.it": "Liberation Sans:italic",
    "mathtext.bf": "Liberation Sans:bold",
})

fig = plt.figure(figsize=(10.99, 23.08), dpi=100)
ax_a = fig.add_axes([0.0910, 0.62045, 0.8931, 0.37405])
ax_b = fig.add_axes([0.0910, 0.10169, 0.8931, 0.37405])


def draw(ax, curves):
    for pts, color, lw in curves:
        df = pd.DataFrame(pts, columns=["t", "x"])
        sns.lineplot(data=df, x="t", y="x", ax=ax, color=color, linewidth=lw,
                     estimator=None, sort=False, legend=False)


draw(ax_a, curves_a)
draw(ax_b, curves_b)

FS = 20.5
for ax in (ax_a, ax_b):
    ax.set_xlim(0, 40)
    ax.set_xticks(range(0, 41, 5))
    ax.tick_params(direction="in", top=True, right=True, length=7.2, width=1.6, labelsize=FS)
    ax.tick_params(axis="x", pad=9.5)
    ax.tick_params(axis="y", pad=7)
    for s in ax.spines.values():
        s.set_linewidth(1.8)
    ax.set_xlabel("t", fontsize=FS, labelpad=6)

ax_a.set_ylim(-3, 3)
ax_a.set_yticks(range(-3, 4))
ax_b.set_ylim(-6, 6)
ax_b.set_yticks(range(-6, 7, 2))

ax_a.set_ylabel("x$_{\\mathrm{i1}}$(t),i=1,...20", fontsize=FS)
ax_b.set_ylabel("x$_{\\mathrm{i2}}$(t),i=1,...20", fontsize=FS)
ax_a.yaxis.set_label_coords(-0.063, 0.5)
ax_b.yaxis.set_label_coords(-0.063, 0.5)

fig.text(0.514, 0.5308, "(a)", family="cmr10", fontsize=36, ha="center", va="center")
fig.text(0.514, 0.0121, "(b)", family="cmr10", fontsize=36, ha="center", va="center")

fig.savefig("out.png", dpi=100)
